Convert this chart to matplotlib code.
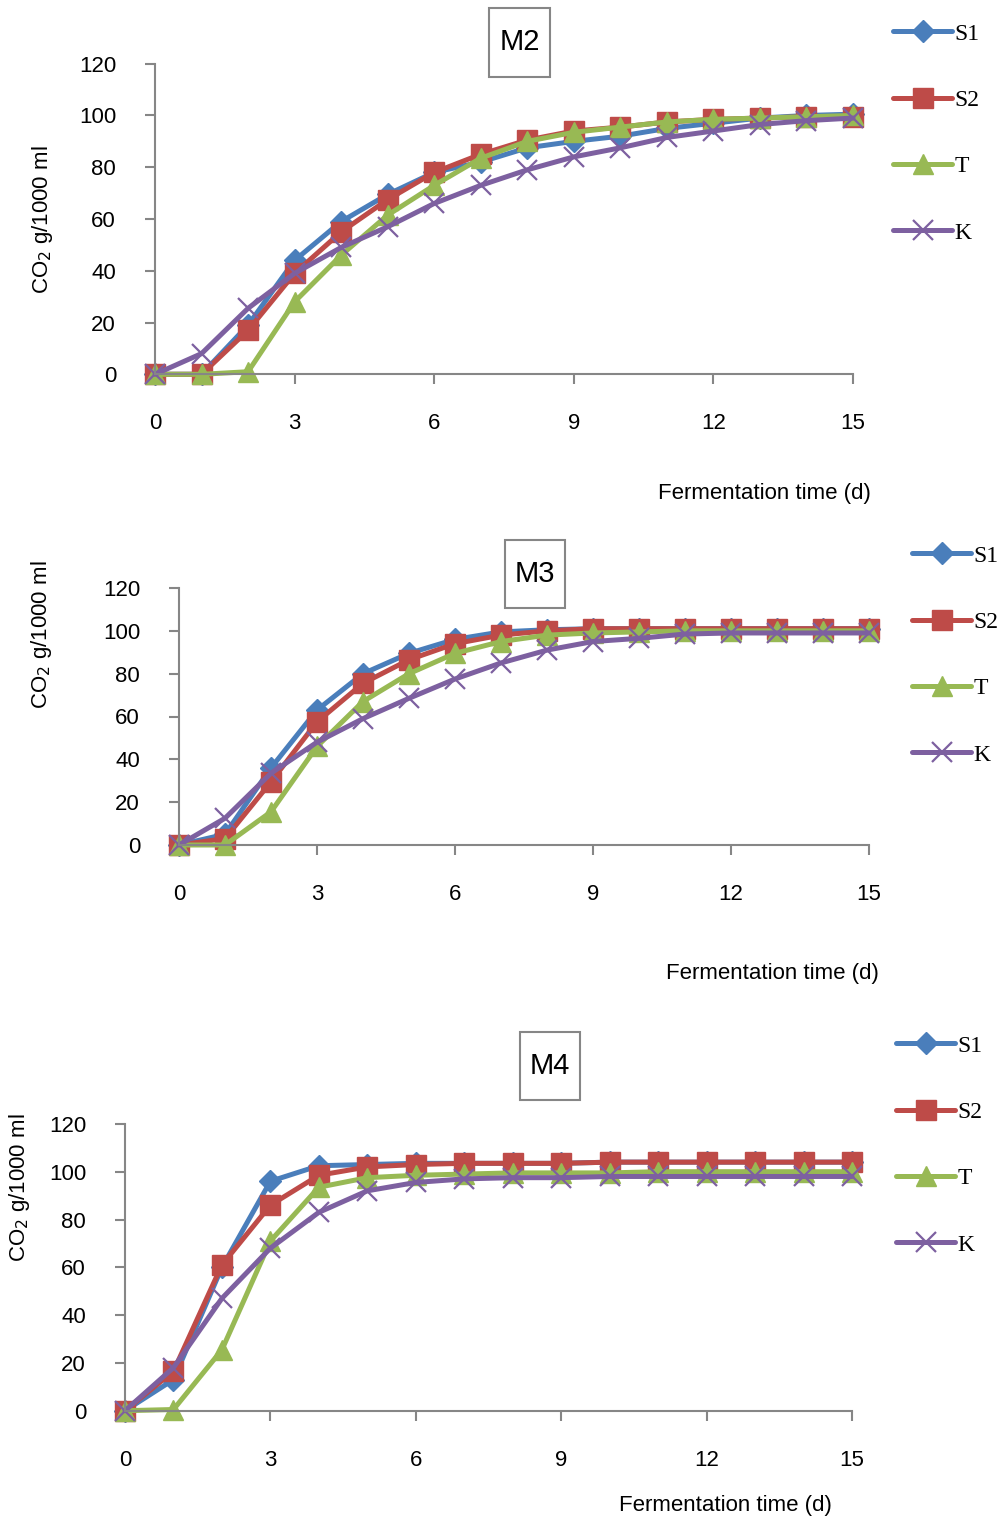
import matplotlib
matplotlib.use("Agg")
import matplotlib.pyplot as plt
from matplotlib.patches import Rectangle

# fermentation days
days = list(range(16))

# M2 series (CO2 g/1000 ml)
m2_s1 = [0, 0, 19, 44, 59, 69.5, 78, 82, 87.5, 90, 92, 95, 97, 99, 100, 100.5]
m2_s2 = [0, 0, 17, 39, 55, 67.5, 78, 85, 90.5, 94, 95.5, 97.5, 98.5, 99, 99.5, 99.5]
m2_t = [0, 0, 1, 28, 46, 61.5, 73, 83.5, 90, 93.5, 95.5, 97.5, 98.5, 99, 99.5, 100]
m2_k = [0, 8, 25.5, 39, 49, 57, 66, 73, 79, 84, 87.5, 91.5, 94, 96.5, 98, 99]

# M3 series
m3_s1 = [0, 5, 36, 63, 80, 89.5, 96, 99.5, 100.5, 101, 101, 101, 101, 101, 101, 101]
m3_s2 = [0, 3, 29.5, 57.5, 75.5, 86.5, 94, 98, 100, 101, 101, 101, 101, 101, 101, 101]
m3_t = [0, 0, 15.5, 46, 67, 80, 89.5, 95, 98, 99, 99.5, 100, 100, 100, 100, 100]
m3_k = [0, 12.5, 33.5, 48, 59, 68.5, 77.5, 85, 91, 95, 96.5, 98.5, 99, 99, 99, 99]

# M4 series
m4_s1 = [0, 13, 60, 96, 102.5, 103, 103.5, 103.5, 103.5, 103.5, 104, 104, 104, 104, 104, 104]
m4_s2 = [0, 16.5, 61, 86, 98.5, 102, 103, 103.5, 103.5, 103.5, 104, 104, 104, 104, 104, 104]
m4_t = [0, 0.5, 25.5, 71, 93.5, 97.5, 98.5, 99, 99.5, 99.5, 99.5, 100, 100, 100, 100, 100]
m4_k = [0, 18, 47, 68, 83, 92, 95.5, 97, 97.5, 97.5, 98, 98, 98, 98, 98, 98]

labels = ["S1", "S2", "T", "K"]
xticks = [0, 3, 6, 9, 12, 15]
yticks = [0, 20, 40, 60, 80, 100, 120]

colors = ["#4A7EBB", "#BE4B48", "#98B954", "#7D60A0"]
markers = ["D", "s", "^", "x"]
msizes = [11, 14, 14, 15]

FIG_W, FIG_H = 1001, 1522
AXIS_GRAY = "#868686"
SANS = "Liberation Sans"
SERIF = "Liberation Serif"


def px(x, y):
    """pixel coords (top-left origin) -> figure fraction"""
    return x / FIG_W, 1 - y / FIG_H


def draw_panel(fig, box, series, title, title_box, ylab_xy, xlab_xy, leg_xy):
    x0, x1, y0, y120 = box
    left, bottom = px(x0, y0)
    ax = fig.add_axes([left, bottom, (x1 - x0) / FIG_W, (y0 - y120) / FIG_H])

    for vals, lab, c, m, ms in zip(series, labels, colors, markers, msizes):
        mew = 1.6 if m == "x" else 1
        ax.plot(days, vals, color=c, lw=3.6, marker=m, ms=ms, mfc=c, mec=c,
                mew=mew, label=lab, clip_on=False, solid_capstyle="round")

    ax.set_xlim(0, 15)
    ax.set_ylim(0, 120)
    ax.set_xticks(xticks)
    ax.set_yticks(yticks)
    for s in ["top", "right"]:
        ax.spines[s].set_visible(False)
    for s in ["left", "bottom"]:
        ax.spines[s].set_color(AXIS_GRAY)
        ax.spines[s].set_linewidth(1.5)
    ax.tick_params(direction="out", length=7, width=1.5, color=AXIS_GRAY,
                   labelsize=16, pad=21)
    for t in ax.get_xticklabels() + ax.get_yticklabels():
        t.set_family(SANS)

    # boxed title
    bx, by, bw, bh = title_box
    rx, ry = px(bx, by + bh)
    fig.patches.append(Rectangle((rx, ry), bw / FIG_W, bh / FIG_H,
                                 transform=fig.transFigure, fill=False,
                                 edgecolor=AXIS_GRAY, lw=1.5))
    tx, ty = px(bx + bw / 2, by + bh / 2)
    fig.text(tx, ty, title, ha="center", va="center", fontsize=21, family=SANS)

    lx, ly = px(*ylab_xy)
    fig.text(lx, ly, "CO$_2$ g/1000 ml", rotation=90, ha="center", va="center",
             fontsize=16, family=SANS)
    fx, fy = px(*xlab_xy)
    fig.text(fx, fy, "Fermentation time (d)", ha="center", va="center",
             fontsize=16, family=SANS)

    gx, gy = px(*leg_xy)
    fig.legend(handles=ax.get_lines(), loc="upper left", bbox_to_anchor=(gx, gy),
               frameon=False, prop={"family": SERIF, "size": 17},
               handlelength=2.5, handletextpad=0.1, labelspacing=1.9,
               borderaxespad=0, borderpad=0)
    return ax


fig = plt.figure(figsize=(FIG_W / 100, FIG_H / 100), dpi=100)

draw_panel(fig, (155, 853, 374.3, 63.7), [m2_s1, m2_s2, m2_t, m2_k], "M2",
           (489, 8, 61, 69), (43, 220), (764, 493), (893, 23))
draw_panel(fig, (179, 869, 845, 588), [m3_s1, m3_s2, m3_t, m3_k], "M3",
           (505, 540, 60, 68), (42, 635), (772, 974), (912, 545))
draw_panel(fig, (125, 852, 1410.7, 1123.9), [m4_s1, m4_s2, m4_t, m4_k], "M4",
           (520, 1032, 60, 68), (20, 1188), (725, 1505), (896, 1035))

fig.savefig("out.png", dpi=100)
